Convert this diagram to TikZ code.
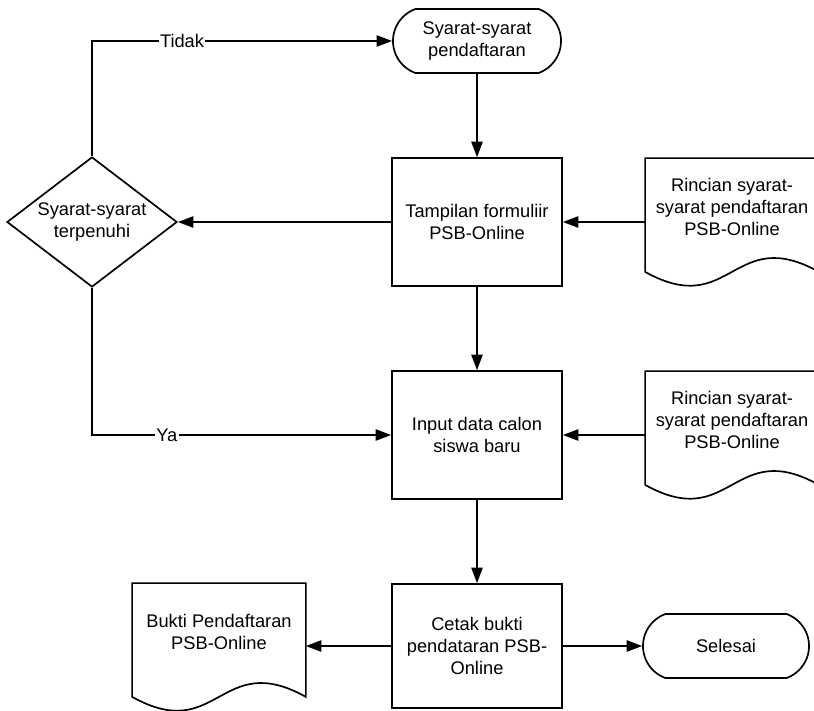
\documentclass[tikz,border=0pt]{standalone}
\usepackage{fontspec}
\setmainfont{Liberation Sans}
\usetikzlibrary{shapes.geometric,shapes.misc,arrows.meta}
\begin{document}
\begin{tikzpicture}[x=0.025cm, y=-0.025cm, line width=1.2pt,
    font=\fontsize{13}{15.5}\selectfont,
    proses/.style={draw, rectangle, minimum width=4.25cm, minimum height=3.2cm, align=center, inner sep=0pt},
    terminal/.style={draw, rounded rectangle, rounded rectangle arc length=140, minimum width=4.2cm, minimum height=1.6cm, align=center, inner sep=0pt},
    keputusan/.style={draw, diamond, aspect=1.35, minimum width=4.25cm, minimum height=3.25cm, align=center, inner sep=0pt},
    dokumen/.style={minimum width=4.3cm, minimum height=2.4cm, align=center, inner sep=0pt},
    label/.style={fill=white, inner sep=1pt},
    panah/.style={-{Triangle[length=11pt,width=8pt]}}]
    \useasboundingbox (0,0) rectangle (814,710);
    \clip (0,0) rectangle (814,710);
    \node[terminal] (mulai) at (477,41) {Syarat-syarat\\pendaftaran};
    \node[proses] (tampilan) at (477,222) {Tampilan formuliir\\PSB-Online};
    \node[proses] (input) at (477,435) {Input data calon\\siswa baru};
    \node[proses, minimum height=3.1cm] (cetak) at (477,646) {Cetak bukti\\pendataran PSB-\\Online};
    \node[keputusan] (syarat) at (92,222) {Syarat-syarat\\terpenuhi};
    \node[dokumen] (rincian1) at (732,207) {Rincian syarat-\\syarat pendaftaran\\PSB-Online};
    \node[dokumen] (rincian2) at (732,420) {Rincian syarat-\\syarat pendaftaran\\PSB-Online};
    \node[dokumen] (bukti) at (219,632) {Bukti Pendaftaran\\PSB-Online};
    \node[terminal, minimum width=4.15cm] (selesai) at (726,646) {Selesai};
    \foreach \d in {rincian1,rincian2,bukti}
        \draw (\d.north west) -- (\d.north east) -- ([yshift=-0.4cm]\d.south east)
            .. controls +(-2.15cm,1.2cm) and +(2.15cm,-1.2cm) .. ([yshift=-0.4cm]\d.south west) -- cycle;
    \draw[panah] (mulai) -- (tampilan);
    \draw[panah] (tampilan) -- (input);
    \draw[panah] (input) -- (cetak);
    \draw[panah] (rincian1.west |- tampilan.east) -- (tampilan.east);
    \draw[panah] (rincian2.west |- input.east) -- (input.east);
    \draw[panah] (tampilan.west) -- (syarat.east);
    \draw[panah] (syarat.north) |- node[label, pos=0.65] {Tidak} (mulai.west);
    \draw[panah] (syarat.south) |- node[label, pos=0.625] {Ya} (input.west);
    \draw[panah] (cetak.west) -- (bukti.east |- cetak.west);
    \draw[panah] (cetak.east) -- (selesai.west);
\end{tikzpicture}
\end{document}
